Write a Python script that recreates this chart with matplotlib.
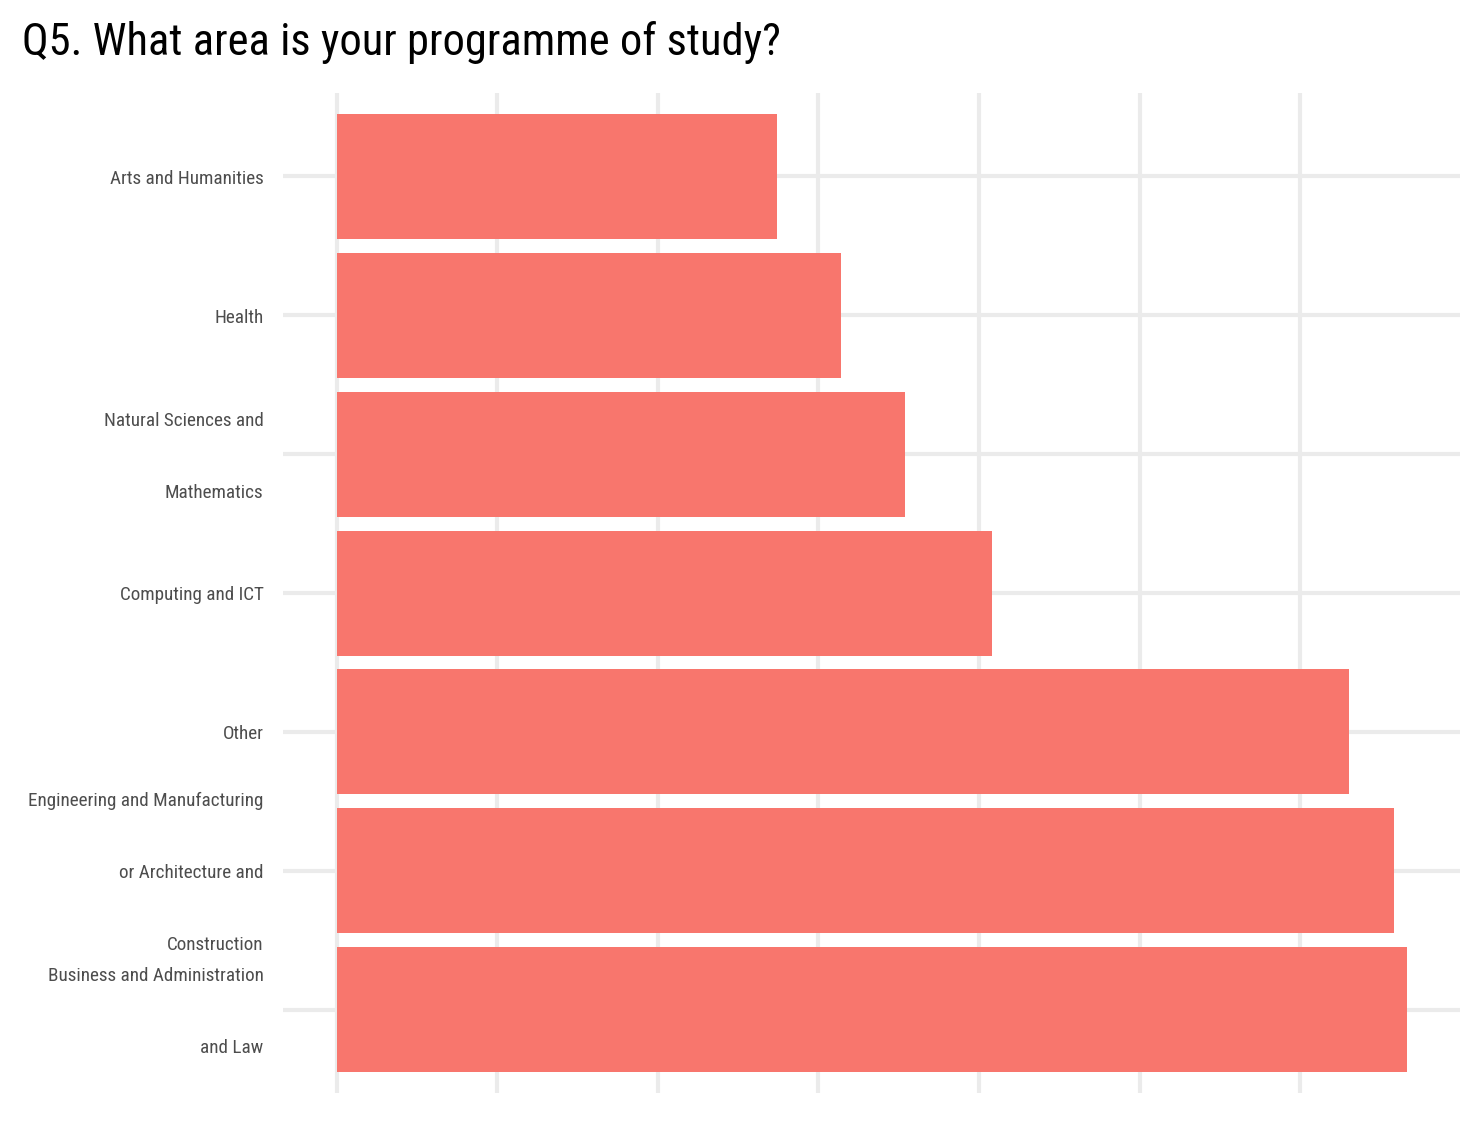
import matplotlib.pyplot as plt
import matplotlib.transforms as mtransforms
from matplotlib import font_manager

names = {f.name for f in font_manager.fontManager.ttflist}
narrow = 'DejaVu Sans'
for cand in ['Liberation Sans Narrow', 'Roboto Condensed', 'Open Sans Condensed']:
    if cand in names:
        narrow = cand
        break

categories = ['Arts and Humanities', 'Health', 'Natural Sciences and\nMathematics',
              'Computing and ICT', 'Other',
              'Engineering and Manufacturing\nor Architecture and\nConstruction',
              'Business and Administration\nand Law']
values = [27.4, 31.4, 35.4, 40.8, 63.0, 65.8, 66.6]

fig = plt.figure(figsize=(14.84, 11.28), dpi=100)
ax = fig.add_axes([283/1484, 1 - 1093/1128, (1460-283)/1484, (1093-93)/1128])

ypos = list(range(len(categories)))
ax.barh(ypos, values, height=0.9, color='#F8766D', zorder=2)

vmax = max(values)
ax.set_xlim(-0.05*vmax, 1.05*vmax)
ax.set_ylim(len(categories) - 1 + 0.6, -0.6)
ax.set_xticks(range(0, 70, 10))
ax.set_xticklabels([])
ax.set_yticks(ypos)
ax.set_yticklabels(categories, fontsize=13.8, color='#4D4D4D', family=narrow,
                   fontstretch='condensed', linespacing=4.86, va='center')
ax.tick_params(length=0, pad=14)
# nudge labels down a couple of pixels
shift = mtransforms.ScaledTranslation(0, -2.5/100, fig.dpi_scale_trans)
for lab in ax.get_yticklabels():
    lab.set_transform(lab.get_transform() + shift)
ax.grid(True, color='#EBEBEB', linewidth=3, zorder=0)
for s in ax.spines.values():
    s.set_visible(False)

fig.text(22/1484, 1 - 42/1128, 'Q5. What area is your programme of study?',
         fontsize=32, family=narrow, fontstretch='condensed',
         va='center', ha='left', color='black')

fig.savefig('out.png', dpi=100)
